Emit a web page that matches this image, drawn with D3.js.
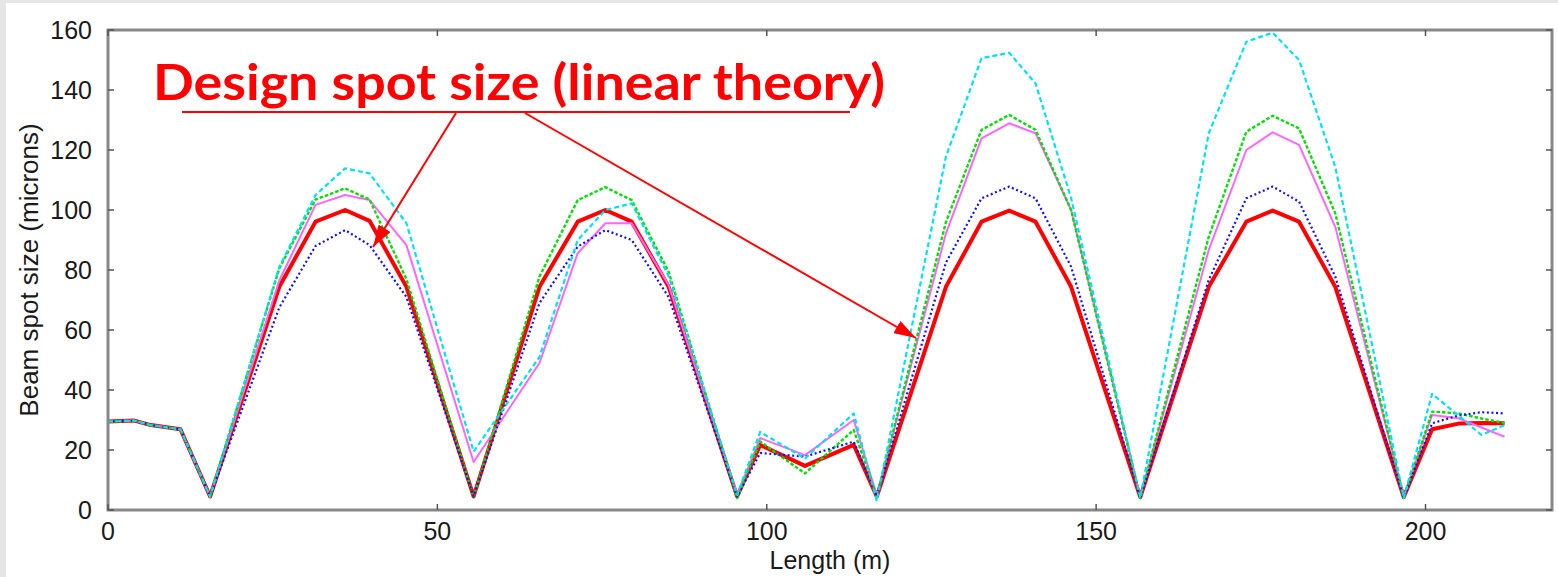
<!DOCTYPE html>
<html>
<head>
<meta charset="utf-8">
<script src="https://cdn.jsdelivr.net/npm/d3@7/dist/d3.min.js"></script>
<style>
  html, body { margin: 0; padding: 0; background: #e6e6e6; }
  svg { display: block; }
</style>
</head>
<body>
<svg id="chart" width="1558" height="577"></svg>
<script>
// ---- data ----
const lengths = [0, 4, 6.5, 11, 15.5,
  26, 31.5, 36, 39.7, 45.3, 55.5,
  65.5, 71.3, 75.5, 79.5, 85.1, 95.5,
  99, 105.8, 113.2, 116.7,
  127.2, 132.6, 136.8, 140.8, 146.2, 156.7,
  167.1, 172.8, 176.8, 180.8, 186.3, 196.7,
  201, 205, 208.5, 212];

const designRed = [29.5, 29.8, 28.3, 26.9, 4.5,
  74.4, 96.1, 100, 96.4, 74.4, 4.5,
  74.4, 96.1, 100, 96.1, 74.4, 4.5,
  21.7, 14.7, 21.7, 4.5,
  74.4, 96.1, 99.8, 96.1, 74.4, 4.3,
  74.4, 96.1, 99.8, 96.1, 74.4, 4.3,
  26.9, 28.8, 29.0, 28.9];

const blueDotted = [29.5, 29.8, 28.3, 26.9, 4.5,
  67.5, 88, 93.3, 88.3, 71, 4.5,
  69, 87.8, 93.3, 90, 71, 4.5,
  19, 17.8, 22.8, 4.5,
  82.5, 103.9, 107.8, 103.9, 81.1, 4,
  76.7, 103.9, 107.8, 102.8, 77.8, 4,
  28.9, 31.5, 32.6, 32.2];

const greenDashed = [29.5, 29.8, 28.3, 26.9, 4.5,
  80.5, 103.5, 107.2, 103.5, 77, 4.3,
  77.8, 103.3, 107.6, 103.3, 79.4, 4,
  22.8, 12.2, 26.7, 4.5,
  96, 126.7, 131.7, 126.7, 100, 4,
  91.1, 126.1, 131.4, 127.2, 98.9, 4,
  32.8, 32.2, 30.5, 29];

const magentaSolid = [29.5, 29.8, 28.3, 26.9, 4.5,
  76.5, 101.7, 105, 103.3, 88.3, 16,
  49, 85.6, 95.6, 95.6, 75, 5,
  24, 18.3, 30, 5,
  92.2, 123.9, 128.9, 125.6, 100, 4.5,
  86.7, 120, 125.9, 121.7, 94.4, 4.5,
  31.7, 30.6, 27.5, 24.4];

const cyanDashed = [29.5, 29.8, 28.3, 26.9, 4.5,
  81, 105, 113.9, 112.2, 95.6, 19.5,
  51, 90, 100, 102.2, 78, 5,
  26, 17.2, 32.2, 3,
  117.8, 150.6, 152.4, 142.2, 104, 4,
  125.6, 156.1, 159.1, 150, 114.4, 4,
  38.7, 31.5, 25, 28.3];

const xTicks = [0, 50, 100, 150, 200];
const yTicks = [0, 20, 40, 60, 80, 100, 120, 140, 160];
const xTitle = "Length (m)";
const yTitle = "Beam spot size (microns)";
const noteText = "Design spot size (linear theory)";

// ---- layout ----
const svg = d3.select("#chart");
const W = 1558, H = 577;
const L = 108, R = 1552, T = 30, B = 510;

svg.append("rect").attr("x", 6).attr("y", 3).attr("width", W - 6).attr("height", H - 3).attr("fill", "#ffffff");

const x = d3.scaleLinear().domain([0, 219.2]).range([L, R]);
const y = d3.scaleLinear().domain([0, 160]).range([B, T]);

const font = "'Liberation Sans', Arial, Helvetica, sans-serif";

// series
const series = [
  { vals: designRed,   color: "#ff0000", width: 4,   dash: null },
  { vals: magentaSolid, color: "#ff66ff", width: 2,   dash: null },
  { vals: greenDashed, color: "#00dd00", width: 2.4, dash: "3.5,2" },
  { vals: blueDotted,  color: "#1010ff", width: 2.2, dash: "2,2.6" },
  { vals: cyanDashed,  color: "#00e0f0", width: 2.2, dash: "5,3" }
];

const line = d3.line().x(d => x(d[0])).y(d => y(d[1]));
const gLines = svg.append("g");
series.forEach(s => {
  gLines.append("path")
    .datum(lengths.map((l, i) => [l, s.vals[i]]))
    .attr("d", line)
    .attr("fill", "none")
    .attr("stroke", s.color)
    .attr("stroke-width", s.width)
    .attr("stroke-linejoin", "round")
    .attr("stroke-dasharray", s.dash);
});

// frame & ticks
const frameCol = "#888888";
svg.append("rect").attr("x", L).attr("y", T).attr("width", R - L).attr("height", B - T)
  .attr("fill", "none").attr("stroke", frameCol).attr("stroke-width", 3);

const tickLen = 6;
const gT = svg.append("g").attr("stroke", "#555").attr("stroke-width", 1.5);
xTicks.forEach(t => {
  gT.append("line").attr("x1", x(t)).attr("x2", x(t)).attr("y1", B).attr("y2", B - tickLen);
  gT.append("line").attr("x1", x(t)).attr("x2", x(t)).attr("y1", T).attr("y2", T + tickLen);
});
yTicks.forEach(t => {
  gT.append("line").attr("x1", L).attr("x2", L + tickLen).attr("y1", y(t)).attr("y2", y(t));
  gT.append("line").attr("x1", R).attr("x2", R - tickLen).attr("y1", y(t)).attr("y2", y(t));
});

// tick labels
svg.append("g").selectAll("text").data(yTicks).join("text")
  .attr("x", L - 16).attr("y", d => y(d)).attr("dy", "0.35em")
  .attr("text-anchor", "end").attr("font-family", font).attr("font-size", 25)
  .attr("fill", "#1a1a1a").text(d => d);

svg.append("g").selectAll("text").data(xTicks).join("text")
  .attr("x", d => x(d)).attr("y", B + 30)
  .attr("text-anchor", "middle").attr("font-family", font).attr("font-size", 25)
  .attr("fill", "#1a1a1a").text(d => d);

// axis titles
svg.append("text").attr("x", (L + R) / 2).attr("y", 569)
  .attr("text-anchor", "middle").attr("font-family", font).attr("font-size", 25)
  .attr("fill", "#1a1a1a").text(xTitle);

svg.append("text").attr("transform", `translate(38,${(T + B) / 2}) rotate(-90)`)
  .attr("text-anchor", "middle").attr("font-family", font).attr("font-size", 26)
  .attr("fill", "#1a1a1a").text(yTitle);

// annotation
const red = "#ff0000";
const defs = svg.append("defs");
defs.append("marker").attr("id", "ah").attr("viewBox", "0 0 22 14")
  .attr("refX", 22).attr("refY", 7).attr("markerWidth", 22).attr("markerHeight", 14)
  .attr("markerUnits", "userSpaceOnUse").attr("orient", "auto")
  .append("path").attr("d", "M0,0 L22,7 L0,14 Z").attr("fill", red);

svg.append("text").attr("x", 153).attr("y", 100)
  .attr("font-family", "'Comic Sans MS', 'Lato', 'Open Sans', sans-serif")
  .attr("font-weight", "bold").attr("font-size", 50)
  .attr("textLength", 732).attr("lengthAdjust", "spacingAndGlyphs")
  .attr("fill", red).text(noteText);

svg.append("line").attr("x1", 182).attr("x2", 850).attr("y1", 112).attr("y2", 112)
  .attr("stroke", red).attr("stroke-width", 2);

const arrows = [[456, 113, 373, 247], [525, 113, 916, 338]];
arrows.forEach(a => {
  svg.append("line").attr("x1", a[0]).attr("y1", a[1]).attr("x2", a[2]).attr("y2", a[3])
    .attr("stroke", red).attr("stroke-width", 2).attr("marker-end", "url(#ah)");
});
</script>
</body>
</html>
